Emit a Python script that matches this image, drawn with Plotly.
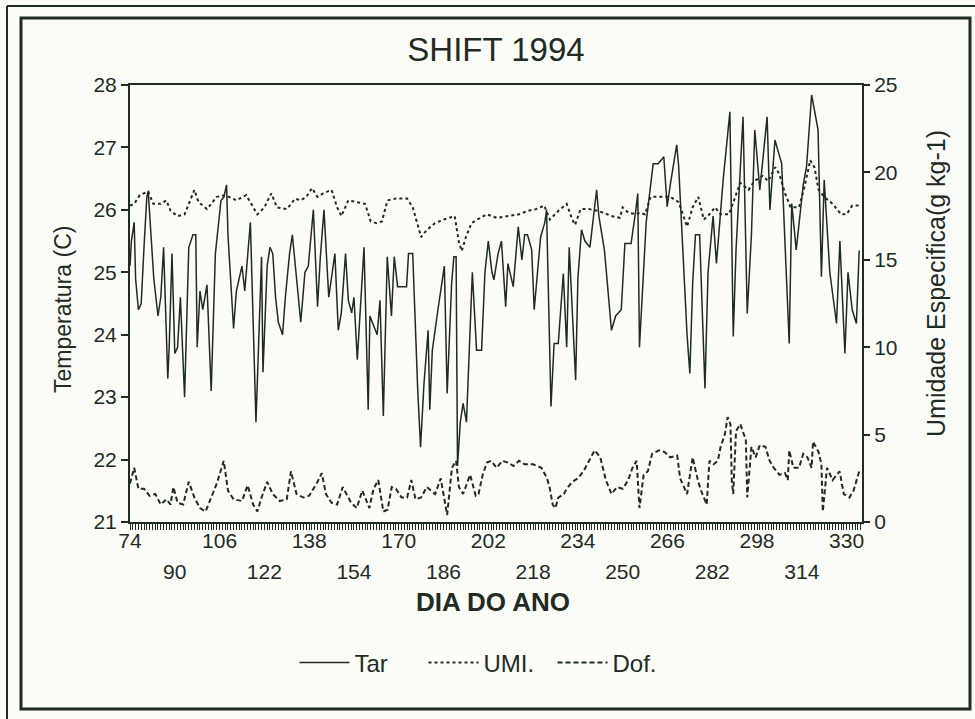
import plotly.graph_objects as go

# ---------------- data ----------------
tar_day = [74, 74.5, 75.5, 76, 77, 78, 79, 80, 80.5, 81.5, 82.5, 84, 85, 86, 87.5, 88, 89, 90, 91, 92,
           93.5, 95, 96.5, 97.5, 98, 99, 100, 101.5, 103, 104.5, 105.5, 106.5, 107.5, 108.5, 109, 111,
           112, 114, 115, 117, 119, 120, 121, 121.5, 123, 124, 125, 126, 127, 128.5, 129.5, 131, 132,
           133.5, 135, 136.5, 137.7, 139.5, 141, 142, 143.3, 145, 146.6, 147.2, 148.4, 149.5, 151, 152,
           153.2, 154, 155.2, 157.3, 157.6, 159.1, 159.7, 162.3, 163.3, 164.5, 165.9, 167.4, 168.4,
           169.6, 172.8, 173.5, 175, 176.8, 177.8, 179, 180.5, 181.1, 182, 184, 186.3, 187.3, 188.9,
           189.7, 190.5, 191, 192, 193, 194.2, 196.3, 197.8, 199.6, 200.8, 202, 203.3, 204, 205.5, 206.7,
           208.2, 209, 210.9, 212.7, 214, 215, 216, 217.5, 218.4, 220.7, 222.2, 222.8, 224.4, 225.5, 227,
           228.8, 230, 230.9, 231.8, 233.2, 234, 235.3, 236.5, 238.3, 240.7, 241.5, 243.5, 246, 247.5,
           249.5, 250.8, 253, 254.7, 255.4, 256, 257.3, 258.4, 260.9, 262.7, 264.7, 265.9, 267, 269.3,
           270, 272.2, 273, 274, 275, 276, 277.5, 279.4, 280.5, 282.3, 283.5, 285.9, 288.3, 289.5, 290.5,
           293, 294.5, 296, 297.2, 299, 301.6, 302.6, 304.4, 306.8, 309.5, 310.4, 312, 314.5, 315.7,
           317.5, 319.8, 321, 322, 324, 326.4, 327.6, 329.4, 330.5, 332, 333.5, 334.5]
tar_val = [25.1, 25.5, 25.8, 24.9, 24.4, 24.5, 25.4, 26.2, 26.3, 25.6, 24.9, 24.3, 24.6, 25.4, 23.3, 23.8,
           25.3, 23.7, 23.8, 24.6, 23.0, 25.4, 25.6, 25.6, 23.8, 24.7, 24.4, 24.8, 23.1, 25.3, 25.7, 26.15,
           26.2, 26.4, 25.6, 24.1, 24.7, 25.1, 24.7, 25.8, 22.6, 23.9, 25.25, 23.4, 25.1, 25.4, 25.3, 24.6,
           24.2, 24.0, 24.6, 25.3, 25.6, 24.9, 24.2, 25.0, 25.1, 26.0, 24.45, 25.25, 26.0, 24.6, 25.1, 25.3,
           24.07, 24.35, 25.3, 24.55, 24.35, 24.6, 23.6, 25.25, 25.4, 22.8, 24.3, 24.0, 24.55, 22.7, 25.25,
           24.3, 25.25, 24.77, 24.77, 25.3, 25.3, 23.1, 22.2, 23.2, 24.07, 22.8, 23.75, 24.4, 25.1, 23.06,
           24.82, 25.25, 25.25, 21.9, 22.6, 22.9, 22.6, 25.0, 23.75, 23.75, 25.0, 25.5, 25.0, 24.88, 25.3,
           25.5, 24.45, 25.14, 24.77, 25.73, 25.2, 25.6, 25.6, 25.36, 24.4, 25.57, 25.8, 26.0, 22.85, 23.86,
           23.86, 24.98, 23.8, 25.4, 24.55, 23.27, 24.9, 25.68, 25.5, 25.4, 26.32, 25.9, 25.35, 24.07, 24.3,
           24.4, 25.46, 25.46, 26.0, 26.26, 23.8, 25.0, 25.8, 26.74, 26.74, 26.85, 26.05, 26.4, 27.04, 26.7,
           24.82, 24.0, 23.38, 24.82, 25.6, 25.6, 23.14, 25.0, 25.9, 25.14, 26.48, 27.57, 23.97, 25.36,
           27.49, 24.34, 25.6, 27.28, 26.32, 27.49, 26.0, 27.12, 26.74, 23.86, 26.1, 25.36, 26.4, 26.7,
           27.84, 27.28, 24.93, 26.48, 25.0, 24.18, 25.5, 23.7, 25.0, 24.4, 24.18, 25.35]

umi_day = [74, 75.5, 77.5, 80.5, 82.3, 85, 87, 88.5, 91, 93.5, 95, 97, 98.5, 101.5, 105, 108, 112, 115.5,
           119.5, 122, 124.5, 126.5, 130, 133, 135, 137, 139, 141, 143, 146, 148, 149.5, 152, 155, 158,
           160, 162, 164, 166, 169, 173, 175, 178, 180, 183, 186, 190, 191.5, 192.5, 194, 196, 198,
           201.5, 205, 210, 213, 216, 219, 222, 224, 227, 230, 232, 233, 235, 238, 241, 243, 246, 249,
           250, 252, 255, 256, 258, 260, 264, 267, 270, 273, 275, 277, 279, 281, 283, 285, 288, 290,
           292, 295, 297, 300, 302, 304.5, 306, 308, 310, 313, 315, 317, 318.5, 320, 322, 325, 328, 330,
           332, 335]
umi_val = [18.1, 18.2, 18.7, 18.9, 18.2, 18.2, 18.4, 17.8, 17.5, 17.6, 18.2, 19.0, 18.3, 17.9, 18.6, 18.7,
           18.4, 18.7, 17.6, 18.0, 18.8, 18.0, 17.9, 18.5, 18.4, 18.6, 19.1, 18.6, 18.8, 19.0, 18.0, 17.5,
           18.4, 18.3, 18.2, 17.2, 17.1, 17.2, 18.4, 18.5, 18.5, 18.0, 16.3, 16.7, 17.1, 17.3, 17.5, 16.0,
           15.5, 16.3, 17.1, 17.3, 17.6, 17.4, 17.5, 17.6, 17.8, 17.9, 18.1, 17.3, 17.8, 18.2, 17.3, 17.0,
           17.9, 17.9, 17.8, 17.7, 17.5, 17.4, 18.0, 17.7, 17.6, 17.7, 17.6, 18.6, 18.6, 18.6, 18.3, 16.9,
           18.0, 18.6, 17.3, 17.6, 18.0, 17.6, 17.6, 18.5, 19.4, 19.0, 19.5, 19.8, 19.5, 20.3, 19.9, 18.8,
           18.0, 18.0, 19.2, 20.7, 20.3, 19.0, 18.6, 18.2, 17.6, 17.6, 18.1, 18.1]

dof_day = [74, 75.5, 77, 79, 81, 83, 85, 87, 88.5, 89.5, 91, 93, 95, 97, 99, 101, 103, 105, 107.5, 109,
           111, 114, 116, 118, 119.5, 121, 123, 125, 127.5, 130, 131.5, 133.5, 136, 138, 141, 142.5, 144,
           146, 148, 150, 153, 155, 157, 159.5, 161, 162.7, 164.5, 166, 167.5, 169, 171, 173, 174.5, 176,
           178, 180, 183, 185, 187.3, 189, 190.5, 191.5, 193, 195.5, 197.5, 198.5, 200, 201.5, 203, 205,
           207, 209, 211, 213, 215, 218, 221, 223, 224, 225, 226, 227, 229, 230, 232, 234, 236, 238, 240,
           242, 244, 246, 248, 250, 252, 253.5, 255, 256, 257.5, 259, 260.5, 263, 265, 267, 269.5, 270.5,
           272, 273, 275, 276, 277, 278, 279, 280, 281, 282.5, 284, 285, 286.5, 287.5, 288.5, 289, 289.5,
           290.5, 292, 294, 294.5, 296, 297.5, 299, 301, 302.5, 304, 306, 308, 309, 309.5, 311, 313, 314.5,
           316, 317.5, 318, 320, 321, 321.5, 323, 325, 327.5, 329, 331, 332.5, 334.5]
dof_val = [2.2, 3.1, 1.9, 1.9, 1.5, 1.6, 1.0, 1.3, 1.0, 2.0, 1.1, 1.0, 2.3, 1.4, 0.8, 0.6, 1.4, 2.2, 3.5, 1.8,
           1.3, 1.2, 2.1, 1.0, 0.6, 1.4, 2.3, 1.6, 1.2, 1.3, 2.9, 1.6, 1.4, 1.5, 2.3, 2.8, 1.6, 1.1, 1.0,
           2.0, 1.1, 0.8, 1.8, 0.8, 1.9, 2.4, 0.6, 0.7, 2.0, 1.9, 1.4, 1.4, 2.4, 1.3, 1.4, 2.0, 1.6, 2.5,
           0.4, 3.1, 3.5, 2.0, 1.6, 2.7, 1.5, 1.6, 2.7, 3.4, 3.5, 3.1, 3.5, 3.4, 3.2, 3.5, 3.3, 3.3, 3.1,
           2.5, 1.9, 1.0, 0.8, 1.4, 1.6, 1.9, 2.3, 2.5, 2.9, 3.5, 4.1, 3.7, 2.4, 1.6, 2.0, 1.9, 2.4, 3.1,
           3.5, 0.8, 2.7, 2.9, 3.9, 4.1, 4.0, 3.7, 3.8, 2.5, 1.9, 1.6, 3.7, 2.9, 2.3, 1.8, 1.4, 1.0, 3.5,
           3.3, 3.5, 4.3, 5.0, 6.0, 5.6, 2.3, 1.6, 5.2, 5.6, 4.7, 1.4, 4.3, 3.7, 4.4, 4.3, 3.5, 3.1, 2.7,
           2.8, 2.4, 4.1, 3.1, 3.1, 3.9, 3.7, 3.1, 4.6, 4.0, 3.3, 0.6, 3.1, 2.4, 2.9, 1.6, 1.4, 1.8, 2.9]

x_ticks_row1 = [74, 106, 138, 170, 202, 234, 266, 298, 330]
x_ticks_row2 = [90, 122, 154, 186, 218, 250, 282, 314]
y_left_ticks = [21, 22, 23, 24, 25, 26, 27, 28]
y_right_ticks = [0, 5, 10, 15, 20, 25]

# ---------------- style ----------------
INK = "#1f2b25"
BG = "#fcfcf7"
FONT = "Liberation Sans, Arial, sans-serif"

fig = go.Figure()
fig.add_trace(go.Scatter(x=tar_day, y=tar_val, name="Tar", mode="lines",
                         line=dict(color=INK, width=1.5), xaxis="x", yaxis="y"))
fig.add_trace(go.Scatter(x=umi_day, y=umi_val, name="UMI.", mode="lines",
                         line=dict(color=INK, width=2, dash="dot"), xaxis="x2", yaxis="y2"))
fig.add_trace(go.Scatter(x=dof_day, y=dof_val, name="Dof.", mode="lines",
                         line=dict(color=INK, width=2, dash="5px,3px"), xaxis="x3", yaxis="y2"))

xr = [74, 335.5]
axis_common = dict(showgrid=False, zeroline=False, color=INK)

# plot area in pixels: x 130..862, y 85..522
L, R, T, B = 130, 862, 85, 522
W, H = 975, 719
def px(x):
    return (x - L) / (R - L)
def py(y):
    return (B - y) / (B - T)

TICKF = dict(size=21, color=INK, family=FONT)

fig.update_layout(
    width=W, height=H,
    margin=dict(l=L, r=W - R, t=T, b=H - B),
    paper_bgcolor=BG, plot_bgcolor=BG,
    font=dict(family=FONT, color=INK, size=20),
    showlegend=True,
    legend=dict(orientation="h", x=px(488), xanchor="center", y=py(663), yanchor="middle",
                font=dict(size=24, color=INK), bgcolor="rgba(0,0,0,0)",
                itemwidth=50, entrywidth=64, entrywidthmode="pixels"),
    title=dict(text="SHIFT 1994", x=px(496), xref="paper", xanchor="center",
               y=1 - 49 / H, yref="container", yanchor="middle",
               font=dict(size=33, color=INK, family=FONT)),
    # day comb (one tick per day)
    xaxis=dict(range=xr, tickmode="linear", tick0=74, dtick=1, showticklabels=False,
               ticks="outside", ticklen=6, tickwidth=1.2, tickcolor=INK,
               showline=True, linecolor=INK, linewidth=2, mirror=True,
               **axis_common),
    # first row of day labels
    xaxis2=dict(range=xr, overlaying="x", side="bottom", anchor="y2", tickmode="array",
                tickvals=x_ticks_row1, ticktext=[str(v) for v in x_ticks_row1],
                ticks="", showline=False, ticklabelstandoff=4,
                tickfont=TICKF, **axis_common),
    # second row of day labels
    xaxis3=dict(range=xr, overlaying="x", side="bottom", anchor="y2", tickmode="array",
                tickvals=x_ticks_row2, ticktext=[str(v) for v in x_ticks_row2],
                ticks="", showline=False, ticklabelstandoff=35,
                tickfont=TICKF, **axis_common),
    yaxis=dict(range=[21, 28], tickmode="array", tickvals=y_left_ticks,
               ticks="outside", ticklen=7, tickwidth=1.5, tickcolor=INK,
               showline=True, linecolor=INK, linewidth=2,
               tickfont=TICKF, **axis_common),
    yaxis2=dict(range=[0, 25], overlaying="y", side="right", anchor="x2", tickmode="array",
                tickvals=y_right_ticks, ticks="outside", ticklen=6, tickwidth=1.5, tickcolor=INK,
                showline=True, linecolor=INK, linewidth=2,
                tickfont=TICKF, **axis_common),
    annotations=[
        dict(text="Temperatura (C)", x=px(63), y=py(310), xref="paper", yref="paper",
             textangle=-90, showarrow=False, font=dict(size=23, color=INK),
             xanchor="center", yanchor="middle"),
        dict(text="Umidade Especifica(g kg-1)", x=px(936), y=py(284), xref="paper", yref="paper",
             textangle=-90, showarrow=False, font=dict(size=25, color=INK),
             xanchor="center", yanchor="middle"),
        dict(text="<b>DIA DO ANO</b>", x=px(493), y=py(602), xref="paper", yref="paper",
             showarrow=False, font=dict(size=26, color=INK), xanchor="center", yanchor="middle"),
    ],
    shapes=[
        # inner frame
        dict(type="rect", xref="paper", yref="paper", x0=px(21), x1=px(970), y0=py(709), y1=py(18),
             line=dict(color=INK, width=3)),
        # outer scan border lines
        dict(type="line", xref="paper", yref="paper", x0=px(7), x1=px(7), y0=py(719), y1=py(6),
             line=dict(color=INK, width=2)),
        dict(type="line", xref="paper", yref="paper", x0=px(7), x1=px(975), y0=py(6), y1=py(6),
             line=dict(color=INK, width=2)),
    ],
)

fig.write_html("out.html")
